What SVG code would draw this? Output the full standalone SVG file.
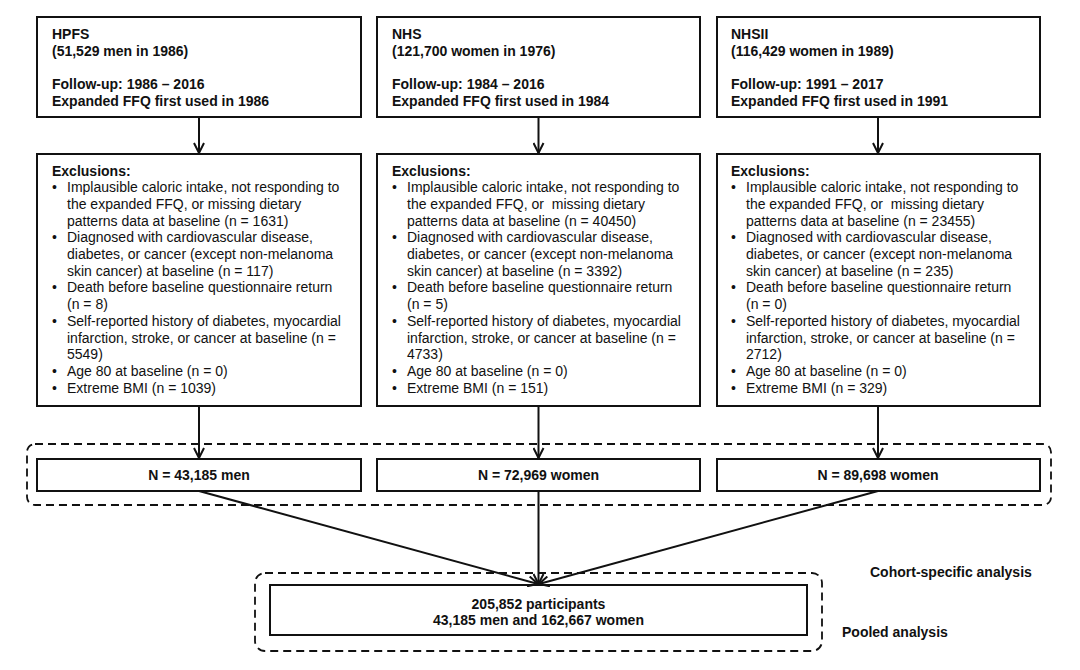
<svg xmlns="http://www.w3.org/2000/svg" width="1080" height="670" viewBox="0 0 1080 670">
<defs>
<style>
.box{fill:#fff;stroke:#111;stroke-width:2}
.dash{fill:none;stroke:#111;stroke-width:1.8;stroke-dasharray:8 5}
.t{font-family:"Liberation Sans",Arial,sans-serif;font-size:14px;fill:#111}
.b{font-weight:bold}
.c{text-anchor:middle}
.ln{stroke:#111;stroke-width:2;fill:none}
</style>
<marker id="ah" viewBox="0 0 12 12" refX="11" refY="6" markerWidth="12" markerHeight="12" markerUnits="userSpaceOnUse" orient="auto">
<path d="M1,1 L11,6 L1,11" fill="none" stroke="#111" stroke-width="2"/>
</marker>
</defs>
<rect width="1080" height="670" fill="#fff"/>

<g id="groups">
<rect class="dash" x="27" y="444" width="1024" height="61" rx="8"/>
<rect class="dash" x="255" y="573" width="567" height="78" rx="10"/>
</g>

<g id="hpfs">
<rect class="box" x="37" y="17" width="324" height="100"/>
<text class="t b" x="52" y="38.5">HPFS</text>
<text class="t b" x="52" y="55.5">(51,529 men in 1986)</text>
<text class="t b" x="52" y="88.5">Follow-up: 1986 – 2016</text>
<text class="t b" x="52" y="105.5">Expanded FFQ first used in 1986</text>
</g>
<g id="nhs">
<rect class="box" x="377" y="17" width="323" height="100"/>
<text class="t b" x="392" y="38.5">NHS</text>
<text class="t b" x="392" y="55.5">(121,700 women in 1976)</text>
<text class="t b" x="392" y="88.5">Follow-up: 1984 – 2016</text>
<text class="t b" x="392" y="105.5">Expanded FFQ first used in 1984</text>
</g>
<g id="nhsii">
<rect class="box" x="717" y="17" width="323" height="100"/>
<text class="t b" x="731" y="38.5">NHSII</text>
<text class="t b" x="731" y="55.5">(116,429 women in 1989)</text>
<text class="t b" x="731" y="88.5">Follow-up: 1991 – 2017</text>
<text class="t b" x="731" y="105.5">Expanded FFQ first used in 1991</text>
</g>

<g id="excl-hpfs">
<rect class="box" x="37" y="154" width="324" height="252"/>
<text class="t b" x="52" y="175.5">Exclusions:</text>
<g class="t">
<text x="52" y="192.2">•</text><text x="67" y="192.2">Implausible caloric intake, not responding to</text>
<text x="67" y="208.9">the expanded FFQ, or missing dietary</text>
<text x="67" y="225.6">patterns data at baseline (n = 1631)</text>
<text x="52" y="242.3">•</text><text x="67" y="242.3">Diagnosed with cardiovascular disease,</text>
<text x="67" y="259">diabetes, or cancer (except non-melanoma</text>
<text x="67" y="275.7">skin cancer) at baseline (n = 117)</text>
<text x="52" y="292.4">•</text><text x="67" y="292.4">Death before baseline questionnaire return</text>
<text x="67" y="309.1">(n = 8)</text>
<text x="52" y="325.8">•</text><text x="67" y="325.8">Self-reported history of diabetes, myocardial</text>
<text x="67" y="342.5">infarction, stroke, or cancer at baseline (n =</text>
<text x="67" y="359.2">5549)</text>
<text x="52" y="375.9">•</text><text x="67" y="375.9">Age 80 at baseline (n = 0)</text>
<text x="52" y="392.6">•</text><text x="67" y="392.6">Extreme BMI (n = 1039)</text>
</g>
</g>
<g id="excl-nhs">
<rect class="box" x="377" y="154" width="323" height="252"/>
<text class="t b" x="392" y="175.5">Exclusions:</text>
<g class="t">
<text x="392" y="192.2">•</text><text x="407" y="192.2">Implausible caloric intake, not responding to</text>
<text x="407" y="208.9" xml:space="preserve">the expanded FFQ, or  missing dietary</text>
<text x="407" y="225.6">patterns data at baseline (n = 40450)</text>
<text x="392" y="242.3">•</text><text x="407" y="242.3">Diagnosed with cardiovascular disease,</text>
<text x="407" y="259">diabetes, or cancer (except non-melanoma</text>
<text x="407" y="275.7">skin cancer) at baseline (n = 3392)</text>
<text x="392" y="292.4">•</text><text x="407" y="292.4">Death before baseline questionnaire return</text>
<text x="407" y="309.1">(n = 5)</text>
<text x="392" y="325.8">•</text><text x="407" y="325.8">Self-reported history of diabetes, myocardial</text>
<text x="407" y="342.5">infarction, stroke, or cancer at baseline (n =</text>
<text x="407" y="359.2">4733)</text>
<text x="392" y="375.9">•</text><text x="407" y="375.9">Age 80 at baseline (n = 0)</text>
<text x="392" y="392.6">•</text><text x="407" y="392.6">Extreme BMI (n = 151)</text>
</g>
</g>
<g id="excl-nhsii">
<rect class="box" x="717" y="154" width="323" height="252"/>
<text class="t b" x="731" y="175.5">Exclusions:</text>
<g class="t">
<text x="731" y="192.2">•</text><text x="746" y="192.2">Implausible caloric intake, not responding to</text>
<text x="746" y="208.9" xml:space="preserve">the expanded FFQ, or  missing dietary</text>
<text x="746" y="225.6">patterns data at baseline (n = 23455)</text>
<text x="731" y="242.3">•</text><text x="746" y="242.3">Diagnosed with cardiovascular disease,</text>
<text x="746" y="259">diabetes, or cancer (except non-melanoma</text>
<text x="746" y="275.7">skin cancer) at baseline (n = 235)</text>
<text x="731" y="292.4">•</text><text x="746" y="292.4">Death before baseline questionnaire return</text>
<text x="746" y="309.1">(n = 0)</text>
<text x="731" y="325.8">•</text><text x="746" y="325.8">Self-reported history of diabetes, myocardial</text>
<text x="746" y="342.5">infarction, stroke, or cancer at baseline (n =</text>
<text x="746" y="359.2">2712)</text>
<text x="731" y="375.9">•</text><text x="746" y="375.9">Age 80 at baseline (n = 0)</text>
<text x="731" y="392.6">•</text><text x="746" y="392.6">Extreme BMI (n = 329)</text>
</g>
</g>

<g id="n-hpfs">
<rect class="box" x="37" y="459" width="324" height="32"/>
<text class="t b c" x="199" y="479.5">N = 43,185 men</text>
</g>
<g id="n-nhs">
<rect class="box" x="377" y="459" width="323" height="32"/>
<text class="t b c" x="538.5" y="479.5">N = 72,969 women</text>
</g>
<g id="n-nhsii">
<rect class="box" x="717" y="459" width="323" height="32"/>
<text class="t b c" x="878" y="479.5">N = 89,698 women</text>
</g>

<g id="pooled">
<rect class="box" x="270" y="585" width="537" height="50"/>
<text class="t b c" x="538.5" y="608.5">205,852 participants</text>
<text class="t b c" x="538.5" y="625">43,185 men and 162,667 women</text>
</g>

<g id="labels">
<text class="t b" x="870" y="576.5">Cohort-specific analysis</text>
<text class="t b" x="842" y="637">Pooled analysis</text>
</g>

<g id="connectors">
<line class="ln" x1="199" y1="117" x2="199" y2="153" marker-end="url(#ah)"/>
<line class="ln" x1="538.5" y1="117" x2="538.5" y2="153" marker-end="url(#ah)"/>
<line class="ln" x1="878" y1="117" x2="878" y2="153" marker-end="url(#ah)"/>
<line class="ln" x1="199" y1="406" x2="199" y2="458" marker-end="url(#ah)"/>
<line class="ln" x1="538.5" y1="406" x2="538.5" y2="458" marker-end="url(#ah)"/>
<line class="ln" x1="878" y1="406" x2="878" y2="458" marker-end="url(#ah)"/>
<line class="ln" x1="199" y1="491" x2="538" y2="584" marker-end="url(#ah)"/>
<line class="ln" x1="538.5" y1="491" x2="538.5" y2="584" marker-end="url(#ah)"/>
<line class="ln" x1="878" y1="491" x2="539" y2="584" marker-end="url(#ah)"/>
</g>
</svg>
